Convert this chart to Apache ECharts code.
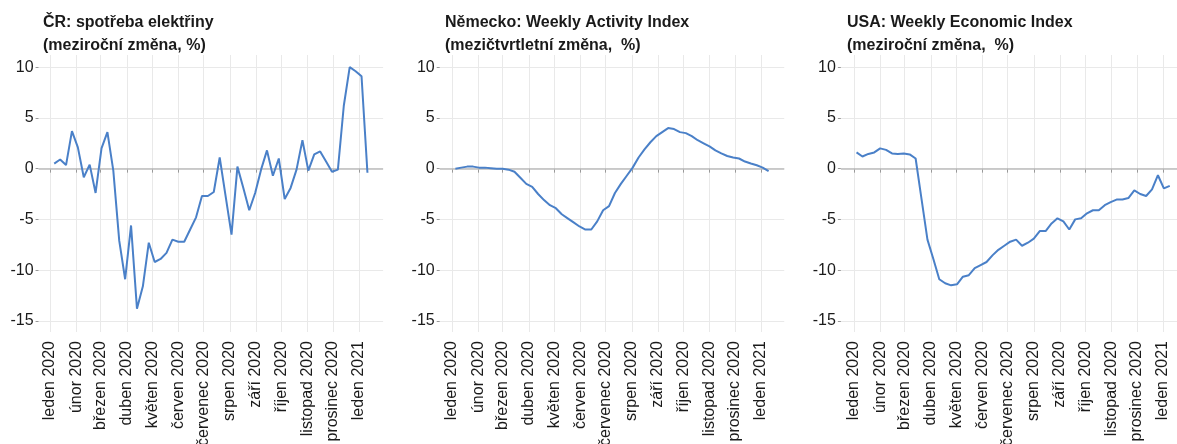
<!DOCTYPE html>
<html>
<head>
<meta charset="utf-8">
<script src="https://cdn.jsdelivr.net/npm/echarts@6/dist/echarts.min.js"></script>
<style>
  html, body { margin: 0; padding: 0; background: #fff; }
  #chart { width: 1177px; height: 444px; }
</style>
</head>
<body>
<div id="chart"></div>
<script>
// Data (weekly observations)
const czStart = '2020-01-06';
const deStart = '2020-01-05';
const usStart = '2020-01-04';

const czValues = [
  0.5, 0.9, 0.35, 3.7, 2.1, -0.85, 0.4, -2.4, 2.0, 3.6, -0.2, -7.1, -10.9, -5.6,
  -13.8, -11.6, -7.3, -9.2, -8.9, -8.3, -7.0, -7.2, -7.2, -6.0, -4.8, -2.7, -2.7,
  -2.3, 1.1, -2.7, -6.5, 0.2, -1.9, -4.1, -2.4, -0.1, 1.8, -0.7, 1.0, -3.0, -1.9,
  -0.1, 2.8, -0.2, 1.4, 1.7, 0.7, -0.3, -0.1, 6.2, 10.0, 9.6, 9.1, -0.4
];
const deValues = [
  0.0, 0.1, 0.2, 0.2, 0.1, 0.1, 0.05, 0.0, 0.0, -0.1, -0.3, -0.9, -1.5, -1.8,
  -2.5, -3.1, -3.6, -3.9, -4.5, -4.9, -5.3, -5.7, -6.0, -6.0, -5.2, -4.1, -3.7,
  -2.4, -1.5, -0.7, 0.1, 1.1, 1.9, 2.6, 3.2, 3.6, 4.0, 3.9, 3.6, 3.5, 3.2, 2.8,
  2.5, 2.2, 1.8, 1.5, 1.25, 1.1, 1.0, 0.7, 0.5, 0.33, 0.1, -0.25
];
const usValues = [
  1.6, 1.2, 1.45, 1.6, 2.0, 1.85, 1.5, 1.45, 1.5, 1.4, 1.0, -3.0, -7.0, -8.9,
  -10.9, -11.3, -11.5, -11.4, -10.65, -10.5, -9.8, -9.5, -9.2, -8.55, -8.0, -7.6,
  -7.2, -7.0, -7.6, -7.3, -6.9, -6.15, -6.15, -5.4, -4.9, -5.2, -6.0, -5.0, -4.9,
  -4.4, -4.1, -4.1, -3.6, -3.3, -3.05, -3.05, -2.9, -2.15, -2.5, -2.7, -2.05,
  -0.65, -1.95, -1.7
];

const monthTicks = [
  '2020-01-01', '2020-02-01', '2020-03-01', '2020-04-01', '2020-05-01', '2020-06-01',
  '2020-07-01', '2020-08-01', '2020-09-01', '2020-10-01', '2020-11-01', '2020-12-01',
  '2021-01-01'
];
const monthLabels = [
  'leden 2020', 'únor 2020', 'březen 2020', 'duben 2020', 'květen 2020', 'červen 2020',
  'červenec 2020', 'srpen 2020', 'září 2020', 'říjen 2020', 'listopad 2020',
  'prosinec 2020', 'leden 2021'
];
const yTicks = [-15, -10, -5, 0, 5, 10];

const panelTitles = [
  'ČR: spotřeba elektřiny\n(meziroční změna, %)',
  'Německo: Weekly Activity Index\n(mezičtvrtletní změna,  %)',
  'USA: Weekly Economic Index\n(meziroční změna,  %)'
];

// Layout
const DAY = 86400000;
const FONT = '"Liberation Sans", Arial, sans-serif';
const LINE_COLOR = '#4a80c8';
const GRID_COLOR = '#e9e9e9';
const jan1Px = [50, 452, 854];
const pxPerDay = 309 / 366;

// dates as day numbers (UTC)
const day = s => Date.parse(s + 'T00:00:00Z') / DAY;
const tickDays = monthTicks.map(day);
const labelByDay = {};
tickDays.forEach((t, i) => { labelByDay[t] = monthLabels[i]; });

function weekly(start, values) {
  const d0 = day(start);
  return values.map((v, i) => [d0 + i * 7, v]);
}

const panels = [
  weekly(czStart, czValues),
  weekly(deStart, deValues),
  weekly(usStart, usValues)
];

const grids = [], xAxes = [], yAxes = [], series = [], titles = [];

panels.forEach((data, i) => {
  const first = data[0][0];
  const last = data[data.length - 1][0];
  const pad = (last - first) * 0.05;
  const min = first - pad;
  const max = last + pad;
  const left = jan1Px[i] - (tickDays[0] - min) * pxPerDay;
  const width = (max - min) * pxPerDay;

  grids.push({ left: left, top: 55, width: width, height: 277, containLabel: false, outerBoundsMode: 'none' });

  xAxes.push({
    type: 'value',
    gridIndex: i,
    min: min,
    max: max,
    axisLine: { show: false },
    axisTick: { show: true, length: 4, customValues: tickDays, lineStyle: { color: '#999' } },
    axisLabel: {
      customValues: tickDays,
      rotate: 90,
      margin: 9,
      fontSize: 16,
      fontFamily: FONT,
      color: '#1a1a1a',
      hideOverlap: false,
      formatter: v => labelByDay[Math.round(v)] || ''
    },
    splitLine: { show: true, lineStyle: { color: GRID_COLOR, width: 1 } }
  });

  yAxes.push({
    type: 'value',
    gridIndex: i,
    min: -16.1,
    max: 11.2,
    axisLine: { show: false },
    axisTick: { show: true, length: 3, customValues: yTicks, lineStyle: { color: '#999' } },
    axisLabel: {
      customValues: yTicks,
      margin: 5,
      fontSize: 16,
      fontFamily: FONT,
      color: '#1a1a1a'
    },
    splitLine: { show: true, lineStyle: { color: GRID_COLOR, width: 1 } }
  });

  series.push({
    type: 'line',
    xAxisIndex: i,
    yAxisIndex: i,
    data: data,
    symbol: 'none',
    smooth: false,
    lineStyle: { color: LINE_COLOR, width: 2 },
    z: 3,
    markLine: {
      silent: true,
      symbol: 'none',
      z: 1,
      label: { show: false },
      lineStyle: { color: '#bdbdbd', width: 1.5, type: 'solid' },
      data: [{ yAxis: 0 }]
    }
  });

  titles.push({
    text: panelTitles[i],
    left: jan1Px[i] - 7,
    top: 11,
    padding: 0,
    textStyle: {
      fontSize: 16,
      fontWeight: 'bold',
      fontFamily: FONT,
      color: '#1a1a1a',
      lineHeight: 23
    }
  });
});

const chart = echarts.init(document.getElementById('chart'), null, { renderer: 'canvas' });
chart.setOption({
  animation: false,
  backgroundColor: '#fff',
  title: titles,
  grid: grids,
  xAxis: xAxes,
  yAxis: yAxes,
  series: series
});
</script>
</body>
</html>
